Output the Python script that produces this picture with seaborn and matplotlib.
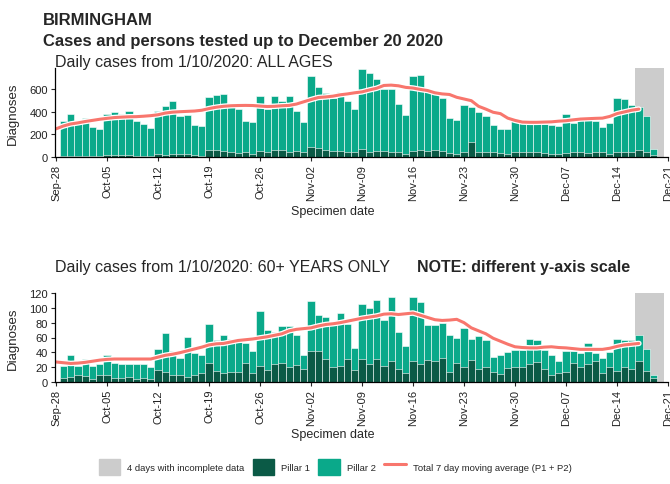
import matplotlib
matplotlib.use("Agg")
import matplotlib.pyplot as plt
import matplotlib.patheffects as pe
from matplotlib.patches import Patch
from matplotlib.lines import Line2D
import seaborn as sns
import pandas as pd

# ---- data ----
start = pd.Timestamp("2020-09-28")
bar_dates = pd.date_range("2020-09-29", "2020-12-19")      # one bar per specimen date
ma_dates = pd.date_range("2020-09-28", "2020-12-17")       # 7 day moving average
tick_dates = pd.date_range("2020-09-28", "2020-12-21", freq="7D")

all_total = [316, 385, 322, 346, 263, 250,
             382, 397, 382, 412, 322, 293, 257,
             412, 457, 496, 367, 376, 284, 272,
             531, 550, 555, 480, 425, 322, 307,
             540, 427, 540, 501, 540, 406, 307,
             719, 621, 570, 525, 578, 500, 430,
             780, 750, 695, 605, 605, 470, 375,
             720, 725, 585, 570, 525, 345, 325,
             466, 448, 403, 361, 284, 248, 248,
             322, 307, 299, 299, 293, 287, 278,
             380, 305, 340, 350, 320, 268, 305,
             522, 516, 466, 442, 367, 69]
all_p1 = [8, 10, 12, 10, 8, 10,
          15, 18, 15, 14, 10, 12, 8,
          30, 22, 30, 28, 25, 15, 12,
          60, 65, 55, 40, 35, 40, 25,
          55, 45, 60, 62, 45, 50, 40,
          90, 80, 60, 55, 50, 45, 40,
          70, 45, 55, 50, 45, 40, 30,
          55, 60, 55, 60, 50, 35, 30,
          40, 137, 45, 45, 40, 35, 30,
          45, 45, 45, 40, 35, 30, 30,
          35, 40, 40, 35, 45, 40, 25,
          40, 45, 40, 60, 45, 20]
all_ma = [250, 275, 293, 303, 315, 325, 335, 343, 350, 354, 357, 358, 362, 367,
          375, 390, 398, 402, 405, 408, 415, 430, 442, 450, 455, 457, 458, 457,
          452, 448, 450, 455, 458, 470, 490, 510, 528, 533, 540, 552, 560, 570,
          578, 595, 610, 635, 638, 632, 618, 612, 600, 590, 570, 560, 555, 530,
          515, 500, 450, 425, 397, 385, 345, 325, 310, 308, 308, 310, 312, 318,
          322, 330, 337, 340, 343, 345, 360, 385, 400, 415, 425]

old_total = [22, 36, 21, 31, 21, 24,
             37, 25, 24, 24, 24, 24, 20,
             45, 66, 42, 33, 61, 39, 36,
             78, 57, 63, 58, 54, 53, 42,
             96, 70, 68, 76, 75, 64, 36,
             109, 91, 87, 80, 93, 78, 46,
             105, 100, 110, 83, 114, 68, 49,
             115, 108, 77, 77, 80, 64, 60,
             73, 58, 62, 57, 34, 36, 40,
             43, 43, 58, 56, 43, 36, 28,
             42, 42, 39, 53, 39, 33, 40,
             58, 57, 56, 64, 44, 9]
old_p1 = [5, 7, 10, 8, 4, 10,
          10, 6, 6, 7, 4, 5, 4,
          16, 14, 9, 10, 7, 10, 12,
          26, 15, 12, 14, 14, 25, 12,
          21, 16, 24, 26, 20, 23, 18,
          42, 42, 31, 20, 22, 31, 16,
          31, 24, 31, 22, 28, 18, 12,
          28, 24, 29, 28, 32, 14, 25,
          20, 29, 17, 20, 13, 11, 19,
          20, 20, 24, 27, 18, 10, 12,
          13, 25, 20, 24, 28, 12, 20,
          15, 20, 18, 28, 15, 5]
old_ma = [27, 26, 25, 25.5, 26.5, 28, 29.5, 30.5, 31, 31, 31, 31, 31, 31,
          33.5, 36, 37.5, 39.5, 42, 44.5, 47, 50, 51.5, 52, 54, 56, 57, 58,
          59.5, 61, 63, 65, 69, 71, 72, 73, 75.5, 77.5, 78.5, 80, 82, 84,
          86, 87.5, 89, 91.5, 92, 91, 92, 93, 90, 87, 84, 83, 83.5, 84.5,
          80, 73, 69, 65, 59, 55, 51, 47.5, 46.5, 46, 46, 47, 47.5, 46.5,
          46, 45, 44, 44, 44, 44, 45.5, 48, 50, 51, 52]

incomplete_from, incomplete_to = "2020-12-17", "2020-12-20"

C_P1 = "#0b5a46"
C_P2 = "#0aa98a"
C_GREY = "#cccccc"
C_MA = "#f8766d"

sns.set_style("ticks")
plt.rcParams["font.family"] = ["Liberation Sans", "DejaVu Sans"]

fig = plt.figure(figsize=(6.7, 4.85), dpi=100)
W, H = 670, 485


def panel(top, bottom):
    return fig.add_axes([55 / W, 1 - bottom / H, 613 / W, (bottom - top) / H])


bar_pos = [(d - start).days for d in bar_dates]
ma_pos = [(d - start).days for d in ma_dates]
tick_pos = [(d - start).days for d in tick_dates]
tick_lab = [d.strftime("%b-%d") for d in tick_dates]
g0 = (pd.Timestamp(incomplete_from) - start).days - 0.5
g1 = (pd.Timestamp(incomplete_to) - start).days + 0.5


def draw(ax, total, p1, ma, ymax, yticks):
    ax.axvspan(g0, g1, color=C_GREY, lw=0, zorder=0)
    sns.barplot(x=bar_pos, y=total, native_scale=True, color=C_P2, width=1,
                edgecolor="white", linewidth=0.4, saturation=1, errorbar=None, ax=ax)
    sns.barplot(x=bar_pos, y=p1, native_scale=True, color=C_P1, width=1,
                edgecolor="white", linewidth=0.4, saturation=1, errorbar=None, ax=ax)
    sns.lineplot(x=ma_pos, y=ma, color=C_MA, lw=2.2, ax=ax)
    ax.lines[-1].set_path_effects([pe.Stroke(linewidth=4.0, foreground="white"), pe.Normal()])
    ax.set_xlim(-0.14, 84)
    ax.set_ylim(0, ymax)
    ax.set_yticks(yticks)
    ax.set_xticks(tick_pos)
    ax.set_xticklabels(tick_lab, rotation=90, fontsize=8, color="#222222")
    ax.tick_params(axis="y", labelsize=8, labelcolor="#222222", length=3, width=0.8, pad=2)
    ax.tick_params(axis="x", length=3, width=0.8, pad=2)
    ax.set_xlabel("")
    ax.set_ylabel("")
    sns.despine(ax=ax)
    for s in ("left", "bottom"):
        ax.spines[s].set_color("black")
        ax.spines[s].set_linewidth(0.9)


ax1 = panel(69, 158)
draw(ax1, all_total, all_p1, all_ma, 790, [0, 200, 400, 600])
ax2 = panel(294, 383)
draw(ax2, old_total, old_p1, old_ma, 120, [0, 20, 40, 60, 80, 100, 120])

fig.text(43 / W, 1 - 25 / H, "BIRMINGHAM", fontsize=12, fontweight="bold", va="baseline")
fig.text(43 / W, 1 - 46 / H, "Cases and persons tested up to December 20 2020", fontsize=12,
         fontweight="bold", va="baseline")
fig.text(55 / W, 1 - 67 / H, "Daily cases from 1/10/2020: ALL AGES", fontsize=11.5, va="baseline")
fig.text(55 / W, 1 - 272 / H, "Daily cases from 1/10/2020: 60+ YEARS ONLY", fontsize=11.5, va="baseline")
fig.text(417 / W, 1 - 272 / H, "NOTE: different y-axis scale", fontsize=11.5,
         fontweight="bold", va="baseline")
for yc in (113.5, 338.5):
    fig.text(13 / W, 1 - yc / H, "Diagnoses", rotation=90, fontsize=9.5, ha="center", va="center")
for yc in (212, 435):
    fig.text(333 / W, 1 - yc / H, "Specimen date", fontsize=9, ha="center", va="center")

handles = [Patch(color=C_GREY), Patch(color=C_P1), Patch(color=C_P2),
           Line2D([], [], color=C_MA, lw=2.2)]
labels = ["4 days with incomplete data", "Pillar 1", "Pillar 2",
          "Total 7 day moving average (P1 + P2)"]
fig.legend(handles, labels, loc="center", bbox_to_anchor=(335 / W, 1 - 468 / H), ncol=4,
           frameon=False, fontsize=6.8, handlelength=2.3, handleheight=2.3,
           handletextpad=0.7, columnspacing=0.9)

fig.savefig("out.png", dpi=100)
